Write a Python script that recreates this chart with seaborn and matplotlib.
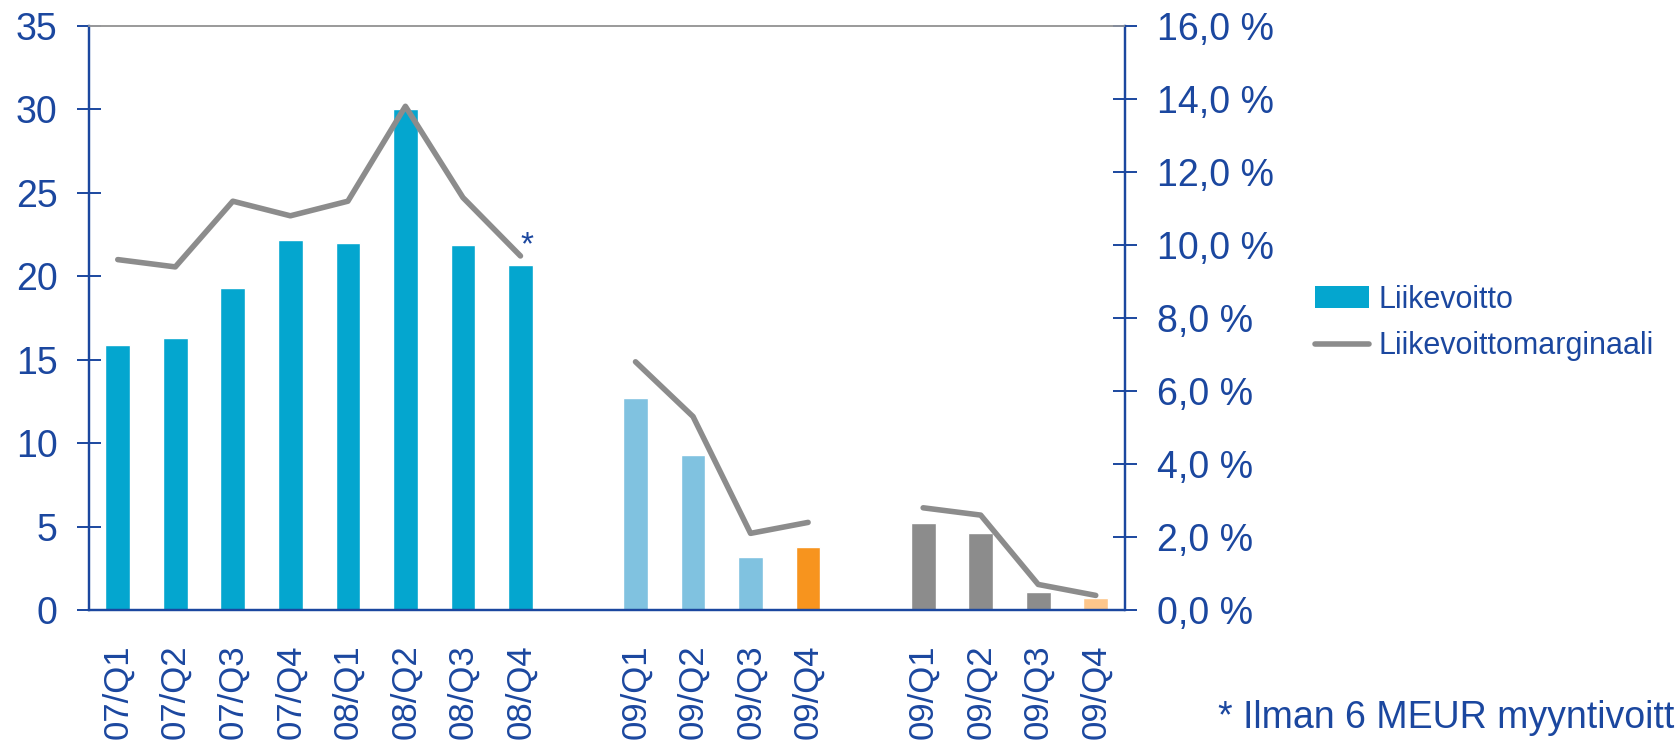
import numpy as np
import pandas as pd
import matplotlib
matplotlib.use("Agg")
import matplotlib.pyplot as plt
import seaborn as sns
from matplotlib.patches import Patch
from matplotlib.lines import Line2D

# data
labels = ["07/Q1", "07/Q2", "07/Q3", "07/Q4", "08/Q1", "08/Q2", "08/Q3", "08/Q4",
          "09/Q1", "09/Q2", "09/Q3", "09/Q4",
          "09/Q1", "09/Q2", "09/Q3", "09/Q4"]
liikevoitto = [15.9, 16.3, 19.3, 22.2, 22.0, 30.0, 21.9, 20.7,
               12.7, 9.3, 3.2, 3.8,
               5.2, 4.6, 1.1, 0.7]
marginaali = [9.6, 9.4, 11.2, 10.8, 11.2, 13.8, 11.3, 9.7,
              6.8, 5.3, 2.1, 2.4,
              2.8, 2.6, 0.7, 0.4]
group = [1] * 8 + [2] * 4 + [3] * 4
kind = ["toteutunut"] * 8 + ["ennuste_a"] * 3 + ["ennuste_a_q4"] + \
       ["ennuste_b"] * 3 + ["ennuste_b_q4"]
left_ticks = [0, 5, 10, 15, 20, 25, 30, 35]
right_ticks = [0, 2, 4, 6, 8, 10, 12, 14, 16]
right_labels = ["0,0 %", "2,0 %", "4,0 %", "6,0 %", "8,0 %", "10,0 %",
                "12,0 %", "14,0 %", "16,0 %"]

# one empty slot between the groups
pos = [i + (g - 1) for i, g in enumerate(group)]

df = pd.DataFrame({"pos": pos, "lbl": labels, "liikevoitto": liikevoitto,
                   "marginaali": marginaali, "group": group, "kind": kind})

blue_txt = "#1b479f"
grey = "#8c8c8c"
palette = {"toteutunut": "#04a6cf", "ennuste_a": "#80c2e0",
           "ennuste_a_q4": "#f7941e", "ennuste_b": "#8c8c8c",
           "ennuste_b_q4": "#fdc68b"}

sns.set_style("white")
plt.rcParams["font.family"] = ["Liberation Sans", "DejaVu Sans"]

W, H = 1675, 747
fig = plt.figure(figsize=(W / 100, H / 100), dpi=100)
ax = fig.add_axes([89 / W, 1 - 610 / H, (1124.5 - 89) / W, (610 - 26) / H])

sns.barplot(data=df, x="pos", y="liikevoitto", hue="kind", palette=palette,
            native_scale=True, dodge=False, width=0.43, saturation=1,
            errorbar=None, legend=False, ax=ax)
ax.set_xlim(-0.5, 17.5)
ax.set_ylim(0, 35)
ax.set_yticks(left_ticks)
ax.set_xticks(pos)
ax.set_xticklabels(labels, rotation=90, va="top", ha="center")
ax.set_xlabel("")
ax.set_ylabel("")

ax2 = ax.twinx()
sns.lineplot(data=df, x="pos", y="marginaali", units="group", estimator=None,
             color=grey, lw=4, solid_capstyle="round", ax=ax2)
ax2.set_ylim(0, 16)
ax2.set_yticks(right_ticks)
ax2.set_yticklabels(right_labels)
ax2.set_ylabel("")
ax2.set_xlim(-0.5, 17.5)

for a in (ax, ax2):
    for s in a.spines.values():
        s.set_color(blue_txt)
        s.set_linewidth(1.6)
    a.spines["top"].set_color("#9a9a9a")
    a.spines["top"].set_linewidth(1.2)
    a.grid(False)

ax.tick_params(axis="y", direction="inout", length=17, width=1.4, color=blue_txt,
               labelcolor=blue_txt, labelsize=27, pad=14)
ax.tick_params(axis="x", length=0, labelcolor=blue_txt, labelsize=25, pad=25)
ax2.tick_params(axis="y", direction="inout", length=17, width=1.4, color=blue_txt,
                labelcolor=blue_txt, labelsize=27, pad=15)

# asterisk at 08/Q4
ax2.annotate("*", (pos[7], marginaali[7]), xytext=(0, -4), textcoords="offset points",
             color=blue_txt, fontsize=24, ha="left", va="bottom")

handles = [Patch(facecolor=palette["toteutunut"], edgecolor="none"),
           Line2D([0], [0], color=grey, lw=4, solid_capstyle="round")]
fig.legend(handles, ["Liikevoitto", "Liikevoittomarginaali"],
           loc="center left", bbox_to_anchor=(1300 / W, 1 - 323 / H),
           frameon=False, fontsize=22, labelcolor=blue_txt, handlelength=1.77,
           handletextpad=0.3, labelspacing=0.55, borderpad=0)

fig.text(1218 / W, 1 - 718 / H, "* Ilman 6 MEUR myyntivoittoa",
         color=blue_txt, fontsize=27, ha="left", va="center")

fig.savefig("out.png", dpi=100)
